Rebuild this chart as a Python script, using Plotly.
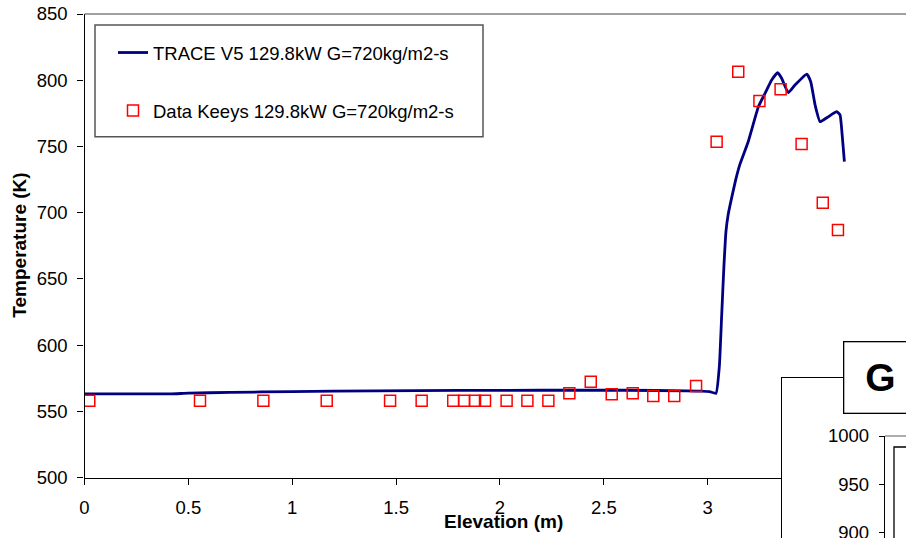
import plotly.graph_objects as go

W, H = 906, 538
FONT = "Liberation Sans, Arial, sans-serif"

# --- data ---
trace_x = [0.0, 0.41, 0.5, 0.7, 1.0, 1.4, 1.8, 2.2, 2.6, 2.9, 2.97, 3.01, 3.04,
           3.056, 3.067, 3.078, 3.088, 3.099, 3.115, 3.135, 3.155, 3.195, 3.244,
           3.276, 3.308, 3.337, 3.356, 3.388, 3.42, 3.477, 3.496, 3.517, 3.541,
           3.581, 3.621, 3.637, 3.648, 3.658]
trace_T = [563.2, 563.2, 563.8, 564.4, 565.0, 565.6, 565.9, 566.0, 566.0, 565.6, 565.4, 564.9, 563.7,
           583.8, 621.5, 659.3, 686.0, 699.0, 711.0, 725.0, 736.5, 753.6, 780.0,
           790.1, 800.2, 805.7, 801.5, 790.6, 796.4, 804.7, 798.9, 781.3, 768.7,
           772.5, 776.3, 773.8, 757.4, 738.5]

data_x = [0.023, 0.556, 0.861, 1.166, 1.471, 1.623, 1.775, 1.827, 1.880, 1.928,
          2.032, 2.132, 2.233, 2.334, 2.437, 2.538, 2.639, 2.738, 2.839, 2.944,
          3.043, 3.147, 3.249, 3.351, 3.452, 3.554, 3.627]
data_T = [558.1, 558.1, 558.1, 558.1, 558.1, 558.1, 558.1, 558.1, 558.1, 558.1,
          558.1, 558.0, 558.0, 563.7, 572.5, 562.9, 563.7, 561.7, 561.7, 569.2,
          753.6, 806.4, 784.3, 793.2, 751.9, 707.6, 687.0]

trace_name = "TRACE V5 129.8kW G=720kg/m2-s"
data_name = "Data Keeys 129.8kW G=720kg/m2-s"
inset_title = "G = 1020 kg/m2-s"
inset_yticks = [900, 950, 1000]


def px(x):
    return x / W


def py(y):
    return (H - y) / H


fig = go.Figure()
fig.add_trace(go.Scatter(x=trace_x, y=trace_T, mode="lines", name=trace_name,
                         line=dict(color="#000080", width=2.8, shape="spline", smoothing=0.4),
                         legendgroup="a"))
fig.add_trace(go.Scatter(x=data_x, y=data_T, mode="markers", name=data_name,
                         marker=dict(symbol="square-open", size=11, color="#FF0000",
                                     line=dict(color="#FF0000", width=1.5)),
                         legendgroup="b"))
# inset chart frame and inset axes (content lies outside the visible window)
fig.add_trace(go.Scatter(x=[None], y=[None], xaxis="x2", yaxis="y2", showlegend=False, hoverinfo="skip"))
fig.add_trace(go.Scatter(x=[None], y=[None], xaxis="x3", yaxis="y3", showlegend=False, hoverinfo="skip"))

x0px, x3px = 84.5, 707.7
ppu = (x3px - x0px) / 3.0
y850, y500 = 14.0, 477.7

fig.update_layout(
    template="none",
    width=W, height=H,
    margin=dict(l=0, r=0, t=0, b=0, autoexpand=False),
    paper_bgcolor="white", plot_bgcolor="white",
    font=dict(family=FONT, size=18.5, color="black"),
    showlegend=True,
    legend=dict(x=px(113), y=py(34), xanchor="left", yanchor="top",
                bgcolor="rgba(0,0,0,0)", borderwidth=0,
                traceorder="grouped", tracegroupgap=31,
                font=dict(family=FONT, size=18.5, color="black")),
    xaxis=dict(domain=[px(x0px), 1], range=[0, (W - x0px) / ppu], dtick=0.5, tick0=0,
               showline=True, linecolor="black", linewidth=1.3, ticks="outside",
               ticklen=6, tickcolor="black", tickwidth=1.3, showgrid=False, zeroline=False,
               ticklabelstandoff=7, anchor="y", automargin=False),
    yaxis=dict(domain=[py(y500), py(y850)], range=[500, 850], dtick=50,
               showline=True, linecolor="black", linewidth=1.3, ticks="outside",
               ticklen=6, tickcolor="black", tickwidth=1.3, showgrid=False, zeroline=False,
               ticklabelstandoff=6, anchor="x", automargin=False),
    xaxis2=dict(domain=[px(782), 1], range=[0, 1], anchor="y2", side="top",
                showline=True, linecolor="black", linewidth=1.3, ticks="",
                showticklabels=False, showgrid=False, zeroline=False, automargin=False),
    yaxis2=dict(domain=[0, py(377.7)], range=[0, 1], anchor="x2",
                showline=True, linecolor="black", linewidth=1.3, ticks="",
                showticklabels=False, showgrid=False, zeroline=False, automargin=False),
    xaxis3=dict(domain=[px(885), 1], range=[0, 1], anchor="y3", visible=False, automargin=False),
    yaxis3=dict(domain=[0, py(436)], range=[1000 - 102 / 0.966, 1000], anchor="x3",
                tickvals=inset_yticks, ticklabeloverflow="allow",
                showline=True, linecolor="black", linewidth=1.3, ticks="outside",
                ticklen=5, tickcolor="black", tickwidth=1.3, showgrid=False, zeroline=False,
                ticklabelstandoff=6, automargin=False),
    shapes=[
        dict(type="line", xref="paper", yref="paper", x0=px(x0px), x1=1, y0=py(y850), y1=py(y850),
             line=dict(color="#808080", width=1.3), layer="above"),
        dict(type="rect", xref="paper", yref="paper", x0=px(95), x1=px(483), y0=py(25), y1=py(136.7),
             line=dict(color="#555555", width=1.5), fillcolor="rgba(0,0,0,0)", layer="above"),
        dict(type="line", xref="paper", yref="paper", x0=px(885), x1=1, y0=py(436), y1=py(436),
             line=dict(color="#808080", width=1.3), layer="above"),
        dict(type="rect", xref="paper", yref="paper", x0=px(894), x1=1.1, y0=-0.1, y1=py(447),
             line=dict(color="black", width=1.3), fillcolor="white", layer="above"),
    ],
    annotations=[
        dict(text="<b>Elevation (m)</b>", xref="paper", yref="paper", x=px(503.5), y=py(521),
             xanchor="center", yanchor="middle", showarrow=False, font=dict(size=19)),
        dict(text="<b>Temperature (K)</b>", xref="paper", yref="paper", x=px(19.7), y=py(245),
             xanchor="center", yanchor="middle", showarrow=False, textangle=-90, font=dict(size=19)),
        dict(text="<b>\u00a0" + inset_title + "</b>", xref="paper", yref="paper", x=px(843), y=py(340.7),
             xanchor="left", yanchor="top", showarrow=False, font=dict(size=39),
             height=50, valign="middle",
             bgcolor="white", bordercolor="black", borderwidth=1.3, borderpad=10),
    ],
)

fig.write_html("out.html")
